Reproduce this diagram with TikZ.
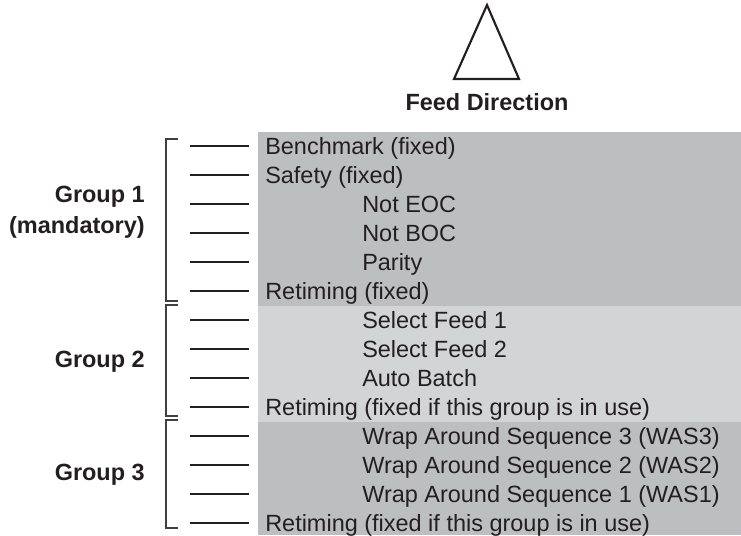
\documentclass[tikz,border=0pt]{standalone}
\usepackage{fontspec}
\setmainfont{Liberation Sans}
\usetikzlibrary{positioning}
\definecolor{darkband}{RGB}{189,190,192}
\definecolor{lightband}{RGB}{211,212,214}
\definecolor{txt}{RGB}{35,31,32}
\begin{document}
\begin{tikzpicture}[x=0.75pt,y=-0.75pt,
every node/.style={inner sep=0pt,text=txt,font=\fontsize{17.6}{21.6}\selectfont},
stub/.style={line width=1.9pt,draw=txt},
brace/.style={line width=0.8pt,draw=black!75},
grp/.style={font=\fontsize{17.6}{23.5}\selectfont\bfseries,align=right}]
\useasboundingbox (0,0) rectangle (741,535);
% bands behind the rows
\fill[darkband] (258,132) rectangle (741,306);
\fill[lightband] (258,306) rectangle (741,422);
\fill[darkband] (258,422) rectangle (741,535);
% feed direction
\draw[line width=1.6pt,draw=txt,line join=miter] (454,79)--(487,5)--(519,79)--cycle;
\node[anchor=base,font=\fontsize{17.6}{21.6}\selectfont\bfseries] (FD) at (487,110) {Feed Direction};
% rows
\node[anchor=base west] (R1) at (265,154) {Benchmark (fixed)};
\node[anchor=base west] (R2) at (265,183) {Safety (fixed)};
\node[anchor=base west] (R3) at (362,212) {Not EOC};
\node[anchor=base west] (R4) at (362,241) {Not BOC};
\node[anchor=base west] (R5) at (362,270) {Parity};
\node[anchor=base west] (R6) at (265,299) {Retiming (fixed)};
\node[anchor=base west] (R7) at (362,328) {Select Feed 1};
\node[anchor=base west] (R8) at (362,357) {Select Feed 2};
\node[anchor=base west] (R9) at (362,386) {Auto Batch};
\node[anchor=base west] (R10) at (265,415) {Retiming (fixed if this group is in use)};
\node[anchor=base west] (R11) at (362,444) {Wrap Around Sequence 3 (WAS3)};
\node[anchor=base west] (R12) at (362,473) {Wrap Around Sequence 2 (WAS2)};
\node[anchor=base west] (R13) at (362,502) {Wrap Around Sequence 1 (WAS1)};
\node[anchor=base west] (R14) at (265,531) {Retiming (fixed if this group is in use)};
% stubs
\coordinate (s1) at (190,146); \coordinate (e1) at (249,146);
\coordinate (s2) at (190,175); \coordinate (e2) at (249,175);
\coordinate (s3) at (190,204); \coordinate (e3) at (249,204);
\coordinate (s4) at (190,233); \coordinate (e4) at (249,233);
\coordinate (s5) at (190,262); \coordinate (e5) at (249,262);
\coordinate (s6) at (190,291); \coordinate (e6) at (249,291);
\coordinate (s7) at (190,320); \coordinate (e7) at (249,320);
\coordinate (s8) at (190,349); \coordinate (e8) at (249,349);
\coordinate (s9) at (190,378); \coordinate (e9) at (249,378);
\coordinate (s10) at (190,407); \coordinate (e10) at (249,407);
\coordinate (s11) at (190,436); \coordinate (e11) at (249,436);
\coordinate (s12) at (190,465); \coordinate (e12) at (249,465);
\coordinate (s13) at (190,494); \coordinate (e13) at (249,494);
\coordinate (s14) at (190,523); \coordinate (e14) at (249,523);
\draw[stub] (s1)--(e1); \draw[stub] (s2)--(e2); \draw[stub] (s3)--(e3);
\draw[stub] (s4)--(e4); \draw[stub] (s5)--(e5); \draw[stub] (s6)--(e6);
\draw[stub] (s7)--(e7); \draw[stub] (s8)--(e8); \draw[stub] (s9)--(e9);
\draw[stub] (s10)--(e10); \draw[stub] (s11)--(e11); \draw[stub] (s12)--(e12);
\draw[stub] (s13)--(e13); \draw[stub] (s14)--(e14);
% group brackets
\draw[brace] (178,139)--(166,139)--(166,301)--(178,301);
\draw[brace] (178,305)--(166,305)--(166,416)--(178,416);
\draw[brace] (178,420)--(166,420)--(166,528)--(178,528);
% group labels
\node[grp,anchor=east] (G1) at (145,212) {Group 1\\(mandatory)};
\node[grp,anchor=base east] (G2) at (145,367) {Group 2};
\node[grp,anchor=base east] (G3) at (145,480) {Group 3};
\end{tikzpicture}
\end{document}
